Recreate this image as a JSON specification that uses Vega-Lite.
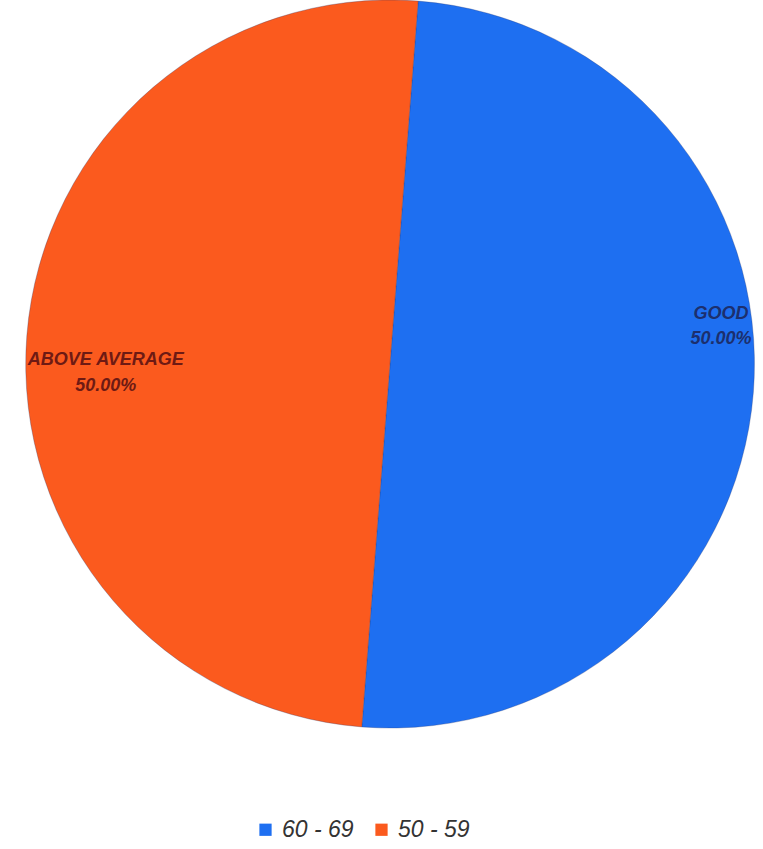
{
  "$schema": "https://vega.github.io/schema/vega-lite/v6.json",
  "width": 744,
  "height": 728,
  "autosize": {"type": "none"},
  "padding": {"left": 18, "top": 0, "right": 1, "bottom": 121},
  "background": "#ffffff",
  "data": {
    "values": [
      {"range": "60 - 69", "label": "GOOD\n50.00%", "value": 50, "ord": 1},
      {"range": "50 - 59", "label": "ABOVE AVERAGE\n50.00%", "value": 50, "ord": 2}
    ]
  },
  "encoding": {
    "theta": {"field": "value", "type": "quantitative", "stack": true, "scale": {"range": [0.0775, 6.3607]}},
    "order": {"field": "ord", "type": "quantitative"}
  },
  "layer": [
    {
      "mark": {"type": "arc", "outerRadius": 364, "stroke": "#2a3a70", "strokeWidth": 0.6, "strokeOpacity": 0.5},
      "encoding": {
        "color": {
          "field": "range",
          "type": "nominal",
          "scale": {"domain": ["60 - 69", "50 - 59"], "range": ["#1e6ff1", "#fb5a1e"]},
          "legend": {
            "orient": "none",
            "direction": "horizontal",
            "legendX": 236,
            "legendY": 818,
            "title": null,
            "padding": 0,
            "symbolType": "square",
            "symbolSize": 150,
            "symbolStrokeWidth": 0,
            "labelFontSize": 23,
            "labelFont": "Liberation Sans",
            "labelFontStyle": "italic",
            "labelColor": "#333333",
            "columnPadding": 16,
            "labelOffset": 5
          }
        }
      }
    },
    {
      "mark": {"type": "text", "radius": 320, "dx": 12, "dy": -75, "lineBreak": "\n", "lineHeight": 25, "font": "Liberation Sans", "fontSize": 18, "fontStyle": "italic", "fontWeight": "bold", "color": "#1c2f6e", "align": "center", "baseline": "middle"},
      "encoding": {
        "text": {"condition": {"test": "datum.ord == 1", "field": "label"}, "value": ""}
      }
    },
    {
      "mark": {"type": "text", "radius": 280, "dx": -5, "dy": 18, "lineBreak": "\n", "lineHeight": 26, "font": "Liberation Sans", "fontSize": 18, "fontStyle": "italic", "fontWeight": "bold", "color": "#6e1a14", "align": "center", "baseline": "middle"},
      "encoding": {
        "text": {"condition": {"test": "datum.ord == 2", "field": "label"}, "value": ""}
      }
    }
  ]
}
